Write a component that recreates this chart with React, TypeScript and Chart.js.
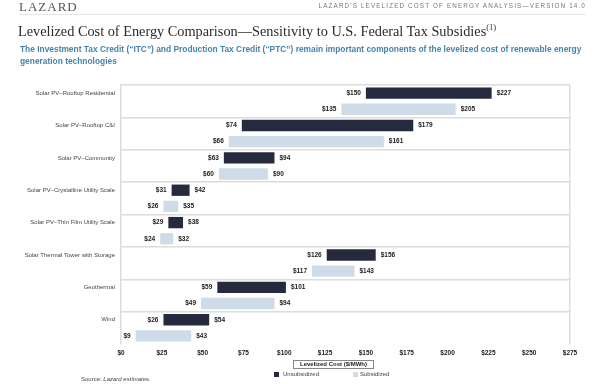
import React, { useEffect, useRef } from "react";
import { Chart, registerables } from "chart.js";

Chart.register(...registerables);

const categories = [
  "Solar PV\u2013Rooftop Residential",
  "Solar PV\u2013Rooftop C&I",
  "Solar PV\u2013Community",
  "Solar PV\u2013Crystalline Utility Scale",
  "Solar PV\u2013Thin Film Utility Scale",
  "Solar Thermal Tower with Storage",
  "Geothermal",
  "Wind",
];
const unsubLow = [150, 74, 63, 31, 29, 126, 59, 26];
const unsubHigh = [227, 179, 94, 42, 38, 156, 101, 54];
const subLow = [135, 66, 60, 26, 24, 117, 49, 9];
const subHigh = [205, 161, 90, 35, 32, 143, 94, 43];
const xTicks = [0, 25, 50, 75, 100, 125, 150, 175, 200, 225, 250, 275];

const DARK = "#252a3f";
const LIGHT = "#cfdce7";
const GRID = "#dcdcdc";
const FONT = "'Liberation Sans', Arial, sans-serif";

export default function App() {
  const ref = useRef<HTMLCanvasElement | null>(null);
  useEffect(() => {
    document.body.style.margin = "0";
    const rowLabels: string[] = [];
    const unsubData: any[] = [];
    const subData: any[] = [];
    categories.forEach((c, i) => {
      rowLabels.push(c);
      rowLabels.push("");
      unsubData.push([unsubLow[i], unsubHigh[i]]);
      unsubData.push(null);
      subData.push(null);
      subData.push([subLow[i], subHigh[i]]);
    });
    const labelPlugin = {
      id: "rangeLabels",
      afterDatasetsDraw(chart: any) {
        const ctx = chart.ctx;
        ctx.save();
        ctx.font = `bold 6.5px ${FONT}`;
        ctx.fillStyle = "#222";
        ctx.textBaseline = "middle";
        chart.data.datasets.forEach((ds: any, di: number) => {
          const meta = chart.getDatasetMeta(di);
          meta.data.forEach((el: any, i: number) => {
            const v = ds.data[i];
            if (!v) return;
            const start = Math.min(el.x, el.base);
            const end = Math.max(el.x, el.base);
            ctx.textAlign = "right";
            ctx.fillText("$" + v[0], start - 5, el.y);
            ctx.textAlign = "left";
            ctx.fillText("$" + v[1], end + 5, el.y);
          });
        });
        ctx.restore();
      },
    };
    const chart = new Chart(ref.current!, {
      type: "bar",
      data: {
        labels: rowLabels,
        datasets: [
          {
            label: "Unsubsidized",
            data: unsubData,
            backgroundColor: DARK,
            grouped: false,
            barPercentage: 0.7,
            categoryPercentage: 1,
          } as any,
          {
            label: "Subsidized",
            data: subData,
            backgroundColor: LIGHT,
            grouped: false,
            barPercentage: 0.7,
            categoryPercentage: 1,
          } as any,
        ],
      },
      options: {
        indexAxis: "y",
        animation: false,
        responsive: false,
        maintainAspectRatio: false,
        layout: { padding: { left: 0, top: 85, right: 30, bottom: 24 } },
        plugins: {
          legend: { display: false },
          tooltip: { enabled: false },
        },
        scales: {
          x: {
            type: "linear",
            min: 0,
            max: 275,
            afterBuildTicks: (scale: any) => {
              scale.ticks = xTicks.map((v) => ({ value: v }));
            },
            ticks: {
              callback: (v: any) => "$" + v,
              font: { family: FONT, size: 6.5, weight: "bold" },
              color: "#222",
              padding: 5,
              maxRotation: 0,
              autoSkip: false,
            },
            grid: {
              drawTicks: false,
              color: (c: any) => (c.index === xTicks.length - 1 ? GRID : "rgba(0,0,0,0)"),
              lineWidth: 1.5,
            },
            border: { display: false },
            afterFit: (scale: any) => {
              scale.height = 16;
            },
          } as any,
          y: {
            type: "category",
            ticks: {
              font: { family: FONT, size: 6 },
              color: "#444",
              padding: 6,
              autoSkip: false,
            },
            grid: {
              drawTicks: false,
              color: (c: any) => (c.index % 2 === 0 ? GRID : "rgba(0,0,0,0)"),
              lineWidth: 1.5,
            },
            border: { display: true, color: GRID, width: 1.5 },
            afterFit: (scale: any) => {
              scale.width = 121;
            },
          } as any,
        },
      },
      plugins: [labelPlugin],
    });
    return () => chart.destroy();
  }, []);

  return (
    <div style={{ position: "fixed", left: 0, top: 0, width: 600, height: 384, background: "#fff", overflow: "hidden" }}>
      <canvas ref={ref} width={600} height={384} style={{ position: "absolute", left: 0, top: 0, width: 600, height: 384 }} />
      <div style={{ position: "absolute", left: 19, top: -1, fontFamily: "'Liberation Serif', serif", fontSize: 13, letterSpacing: 1, color: "#555" }}>
        LAZARD
      </div>
      <div style={{ position: "absolute", right: 14, top: 2, fontFamily: FONT, fontSize: 6.3, letterSpacing: 1.15, color: "#777" }}>
        LAZARD'S LEVELIZED COST OF ENERGY ANALYSIS{"\u2014"}VERSION 14.0
      </div>
      <div style={{ position: "absolute", left: 19, top: 14, width: 567, height: 1, background: "#e4e4e4" }} />
      <div style={{ position: "absolute", left: 18, top: 22, fontFamily: "'Liberation Serif', serif", fontSize: 14.3, color: "#2b2b2b", whiteSpace: "nowrap" }}>
        Levelized Cost of Energy Comparison{"\u2014"}Sensitivity to U.S. Federal Tax Subsidies
        <sup style={{ fontSize: 8.5 }}>(1)</sup>
      </div>
      <div style={{ position: "absolute", left: 20, top: 44, width: 575, fontFamily: FONT, fontWeight: "bold", fontSize: 8.4, lineHeight: "11.5px", color: "#4784ad" }}>
        The Investment Tax Credit ({"\u201C"}ITC{"\u201D"}) and Production Tax Credit ({"\u201C"}PTC{"\u201D"}) remain important components of the levelized cost of renewable energy generation technologies
      </div>
      <div style={{ position: "absolute", left: 293, top: 360, width: 81, height: 9, boxSizing: "border-box", border: "1px solid #888", fontFamily: FONT, fontWeight: "bold", fontSize: 6, lineHeight: "7px", textAlign: "center", color: "#222" }}>
        Levelized Cost ($/MWh)
      </div>
      <div style={{ position: "absolute", left: 274, top: 372, width: 5, height: 5, background: DARK }} />
      <div style={{ position: "absolute", left: 283, top: 371, fontFamily: FONT, fontSize: 6, color: "#444" }}>Unsubsidized</div>
      <div style={{ position: "absolute", left: 353, top: 372, width: 5, height: 5, background: LIGHT }} />
      <div style={{ position: "absolute", left: 360, top: 371, fontFamily: FONT, fontSize: 6, color: "#444" }}>Subsidized</div>
      <div style={{ position: "absolute", left: 81, top: 376, fontFamily: FONT, fontSize: 6, color: "#444" }}>
        Source: <i>Lazard estimates.</i>
      </div>
    </div>
  );
}
